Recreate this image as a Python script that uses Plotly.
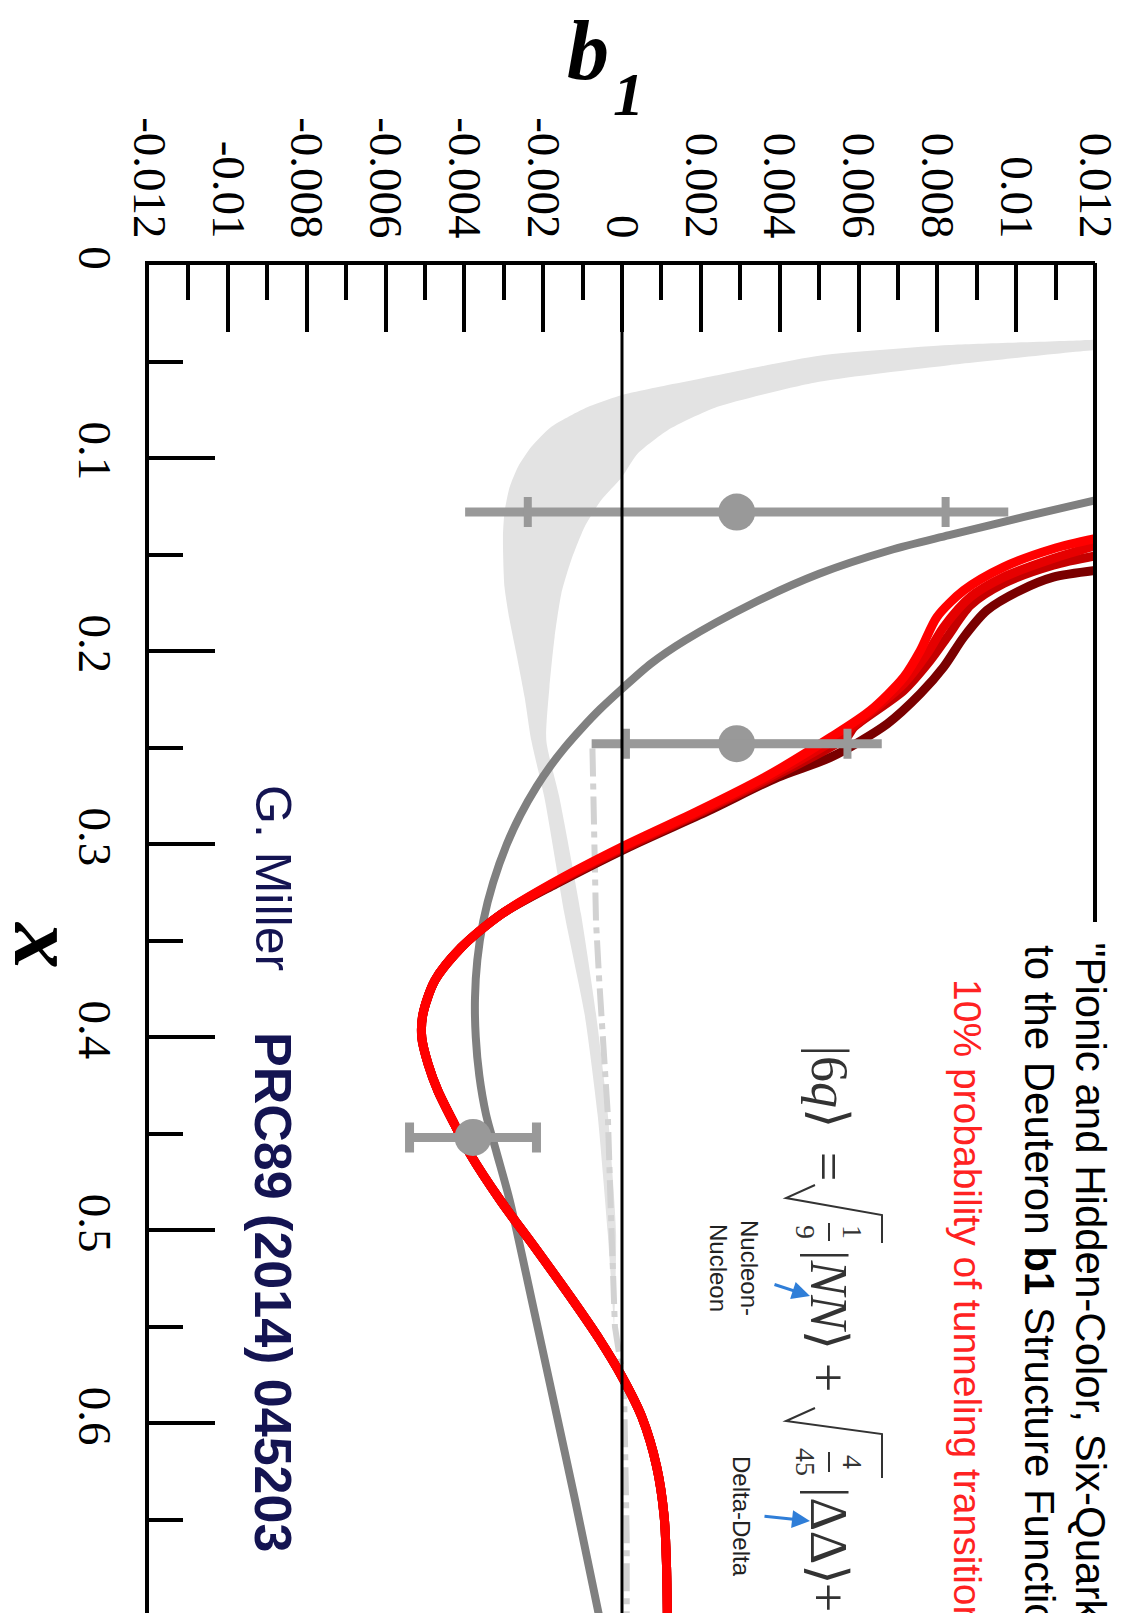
import plotly.graph_objects as go

# ---------------- axis ticks ----------------
B1_TICK_VALS = [-0.012, -0.010, -0.008, -0.006, -0.004, -0.002, 0.0,
                0.002, 0.004, 0.006, 0.008, 0.010, 0.012]
B1_TICK_TEXT = ["-0.012", "-0.01", "-0.008", "-0.006", "-0.004", "-0.002", "0",
                "0.002", "0.004", "0.006", "0.008", "0.01", "0.012"]
B1_MINOR_VALS = [-0.011, -0.009, -0.007, -0.005, -0.003, -0.001,
                 0.001, 0.003, 0.005, 0.007, 0.009, 0.011]
X_TICK_VALS = [0.0, 0.1, 0.2, 0.3, 0.4, 0.5, 0.6]
X_TICK_TEXT = ["0", "0.1", "0.2", "0.3", "0.4", "0.5", "0.6"]
X_MINOR_VALS = [0.05, 0.15, 0.25, 0.35, 0.45, 0.55, 0.65]

# ---------------- light-gray band (lower and upper edge in b1) ----------------
BAND_LO_X = [0.0375, 0.0389, 0.0415, 0.0470, 0.0571, 0.0640, 0.0674, 0.0743, 0.0839,
             0.0942, 0.1046, 0.1150, 0.1279, 0.1409, 0.1669, 0.1841, 0.2014, 0.2239,
             0.2464, 0.2758, 0.3363, 0.3881, 0.4400, 0.5020, 0.5507]
BAND_LO_B1 = [0.0125, 0.0118, 0.0083, 0.0050, 0.00242, 0.00073, 0.0, -0.00095, -0.0018,
              -0.0023, -0.00264, -0.00285, -0.00298, -0.00302, -0.00298, -0.00285, -0.00268,
              -0.00247, -0.0023, -0.00197, -0.00146, -0.00095, -0.00062, -0.00036, -0.0002]
BAND_HI_X = [0.0435, 0.0441, 0.0519, 0.0605, 0.0735, 0.0856, 0.0977, 0.1098, 0.1219,
             0.1357, 0.1530, 0.1703, 0.1928, 0.2187, 0.2464, 0.2758, 0.3363, 0.3881,
             0.4400, 0.5020, 0.5507]
BAND_HI_B1 = [0.0125, 0.0120, 0.0083, 0.0050, 0.00242, 0.00116, 0.0004, 0.0, -0.00053,
              -0.00095, -0.00129, -0.00154, -0.00171, -0.00184, -0.00192, -0.00159, -0.00104,
              -0.00066, -0.00036, -0.00015, -0.0002]

# ---------------- dash-dot light-gray curve ----------------
DASH_X = [0.2505, 0.2800, 0.3100, 0.3400, 0.3700, 0.4000, 0.4400, 0.4800, 0.5200,
          0.5500, 0.5800, 0.6200, 0.6600, 0.7000]
DASH_B1 = [-0.00075, -0.00072, -0.00068, -0.00066, -0.00058, -0.0005, -0.00036, -0.0003,
           -0.00022, -0.00018, 0.00005, 0.0001, 0.00012, 0.00012]

# ---------------- gray model curve ----------------
GRAY_X = [0.1219, 0.1305, 0.1400, 0.1478, 0.1600, 0.1755, 0.1945, 0.2066, 0.2196, 0.2300,
          0.2400, 0.2500, 0.2600, 0.2700, 0.2850, 0.3000, 0.3200, 0.3400, 0.3600, 0.3800,
          0.4000, 0.4200, 0.4400, 0.4600, 0.4845, 0.5363, 0.5880, 0.6399, 0.7000]
GRAY_B1 = [0.0120, 0.0102, 0.0083, 0.0068, 0.0050, 0.0033, 0.0016, 0.00073, 0.0, -0.00055,
           -0.00102, -0.00145, -0.00183, -0.00216, -0.00258, -0.00292, -0.00327, -0.00352,
           -0.00367, -0.00373, -0.00371, -0.00362, -0.00345, -0.00318, -0.00285, -0.00229,
           -0.00174, -0.00119, -0.00058]

# ---------------- red six-quark curves (separate heads, common tail) ----------------
RED_A_X = [0.1418, 0.1470, 0.1565, 0.1686, 0.1824, 0.1997, 0.2135, 0.2308, 0.2446, 0.2654, 0.2827, 0.3017, 0.3207]
RED_A_B1 = [0.0120, 0.01094, 0.00968, 0.00867, 0.00799, 0.00757, 0.00715, 0.0063, 0.0053, 0.00362, 0.00195, -0.00002, -0.0018]
RED_B_X = [0.1455, 0.1521, 0.1617, 0.1720, 0.1876, 0.2014, 0.2169, 0.2360, 0.2446, 0.2654, 0.2827, 0.3017, 0.3207]
RED_B_B1 = [0.0120, 0.01094, 0.00968, 0.00884, 0.00816, 0.00774, 0.00715, 0.00605, 0.0055, 0.00372, 0.00203, 0.00003, -0.00177]
RED_C_X = [0.1507, 0.1555, 0.1650, 0.1763, 0.1928, 0.2049, 0.2204, 0.2395, 0.2446, 0.2654, 0.2827, 0.3017, 0.3207]
RED_C_B1 = [0.0120, 0.01094, 0.00968, 0.00884, 0.00825, 0.00782, 0.00715, 0.00588, 0.0057, 0.00383, 0.0021, 0.0001, -0.00172]
RED_D_X = [0.1582, 0.1617, 0.1686, 0.1789, 0.1928, 0.2083, 0.2221, 0.2377, 0.2550, 0.2654, 0.2827, 0.3017, 0.3207]
RED_D_B1 = [0.0120, 0.01094, 0.0101, 0.00926, 0.00867, 0.00816, 0.00757, 0.00673, 0.0053, 0.00395, 0.0022, 0.00016, -0.00168]
RED_TAIL_X = [0.3363, 0.3536, 0.3708, 0.3881, 0.4002, 0.4140, 0.4279, 0.4452, 0.4607, 0.4845,
              0.5104, 0.5363, 0.5570, 0.5760, 0.5967, 0.6226, 0.6485, 0.6744, 0.7000]
RED_TAIL_B1 = [-0.00306, -0.00408, -0.00475, -0.00505, -0.00508, -0.00492, -0.00467, -0.00425,
               -0.00385, -0.00309, -0.00216, -0.00125, -0.00056, 0.0, 0.0005, 0.00088, 0.00107,
               0.00113, 0.00115]

# ---------------- data points ----------------
PT_X = [0.128, 0.248, 0.452]
PT_B1 = [0.00291, 0.00291, -0.00378]
PT_ERR_OUTER = [0.00689, 0.00368, 0.00161]
PT_ERR_INNER = [0.0053, 0.00281]

# ---------------- page geometry (plot area in pixels) ----------------
FIG_W, FIG_H = 1123, 1613
PL, PT, PW, PH = 149, 265, 946, 1348


def paper(X, Y):
    return (X - PL) / PW, 1 - (Y - PT) / PH


def path(points):
    parts = []
    for i, (X, Y) in enumerate(points):
        px, py = paper(X, Y)
        parts.append(("M" if i == 0 else "L") + f"{px:.5f},{py:.5f}")
    return " ".join(parts)


fig = go.Figure()

# shaded band
fig.add_trace(go.Scatter(
    x=BAND_LO_B1 + BAND_HI_B1[::-1], y=BAND_LO_X + BAND_HI_X[::-1],
    mode="lines", fill="toself", fillcolor="#e3e3e3",
    line=dict(width=0, color="#e3e3e3", shape="spline", smoothing=0.6), hoverinfo="skip"))

# dash-dot curve
fig.add_trace(go.Scatter(
    x=DASH_B1, y=DASH_X, mode="lines",
    line=dict(color="#d2d2d2", width=6, dash="28px,7px,6px,7px")))

# gray curve
fig.add_trace(go.Scatter(
    x=GRAY_B1, y=GRAY_X, mode="lines",
    line=dict(color="#808080", width=8, shape="spline", smoothing=0.8)))

# red curves, darkest first
for hx, hb, col in [(RED_D_X, RED_D_B1, "#7a0000"),
                    (RED_C_X, RED_C_B1, "#c40000"),
                    (RED_B_X, RED_B_B1, "#e60000"),
                    (RED_A_X, RED_A_B1, "#ff0000")]:
    fig.add_trace(go.Scatter(
        x=hb + RED_TAIL_B1, y=hx + RED_TAIL_X, mode="lines",
        line=dict(color=col, width=9, shape="spline", smoothing=0.8)))

# data points: total error (no caps) and inner error ticks
fig.add_trace(go.Scatter(
    x=PT_B1[:2], y=PT_X[:2], mode="markers",
    marker=dict(size=37, color="#999999"),
    error_x=dict(type="data", array=PT_ERR_OUTER[:2], color="#999999", thickness=9, width=0)))
fig.add_trace(go.Scatter(
    x=PT_B1[:2], y=PT_X[:2], mode="markers",
    marker=dict(size=1, color="rgba(0,0,0,0)"),
    error_x=dict(type="data", array=PT_ERR_INNER, color="#999999", thickness=8, width=15)))
fig.add_trace(go.Scatter(
    x=PT_B1[2:], y=PT_X[2:], mode="markers",
    marker=dict(size=37, color="#999999"),
    error_x=dict(type="data", array=PT_ERR_OUTER[2:], color="#999999", thickness=9, width=15)))

# zero line
fig.add_trace(go.Scatter(x=[0.0, 0.0], y=[0.0, 0.7], mode="lines",
                         line=dict(color="black", width=3)))

tick_font = dict(family="Liberation Serif", size=47, color="black")

fig.update_layout(
    width=FIG_W, height=FIG_H,
    margin=dict(l=PL, r=FIG_W - PL - PW, t=PT, b=0, pad=0),
    paper_bgcolor="white", plot_bgcolor="white",
    showlegend=False,
    xaxis=dict(
        range=[-0.012, 0.012], side="top",
        tickmode="array", tickvals=B1_TICK_VALS, ticktext=B1_TICK_TEXT,
        tickangle=90, tickfont=tick_font, ticklabelstandoff=6,
        ticks="inside", ticklen=67, tickwidth=4, tickcolor="black",
        minor=dict(tickmode="array", tickvals=B1_MINOR_VALS, ticks="inside",
                   ticklen=35, tickwidth=4, tickcolor="black"),
        showline=True, linewidth=4, linecolor="black", mirror=False,
        showgrid=False, zeroline=False),
    yaxis=dict(
        range=[0.6984, 0.0],
        tickmode="array", tickvals=X_TICK_VALS, ticktext=X_TICK_TEXT,
        tickangle=90, tickfont=tick_font, ticklabelstandoff=10,
        ticks="inside", ticklen=66, tickwidth=4, tickcolor="black",
        minor=dict(tickmode="array", tickvals=X_MINOR_VALS, ticks="inside",
                   ticklen=34, tickwidth=4, tickcolor="black"),
        showline=True, linewidth=4, linecolor="black", mirror=False,
        showgrid=False, zeroline=False),
)

annotations = []


def text(s, X, Y, size, color="black", family="Liberation Sans", angle=90,
         xanchor="center", yanchor="middle"):
    px, py = paper(X, Y)
    annotations.append(dict(
        text=s, x=px, y=py, xref="paper", yref="paper", showarrow=False,
        textangle=angle, xanchor=xanchor, yanchor=yanchor,
        font=dict(family=family, size=size, color=color)))


# axis titles
text("<b><i>b</i></b>", 588, 50, 84, family="Liberation Serif", angle=0)
text("<b><i>1</i></b>", 628, 94, 62, family="Liberation Serif", angle=0)
text("<b><i>x</i></b>", 46, 945, 92, family="Liberation Serif")

# reference
navy = "#141452"
text("G. Miller", 273, 783, 50, color=navy, yanchor="top")
text("<b>PRC89 (2014) 045203</b>", 273, 1030, 52, color=navy, yanchor="top")

# paper title and note
text("\"Pionic and Hidden-Color, Six-Quark Contributions", 1090, 940, 42, yanchor="top")
text("to the Deuteron <b>b1</b> Structure Function\"", 1040, 943, 42, yanchor="top")
text("10% probability of tunneling transition", 968, 977, 39, color="#ff2222", yanchor="top")

# six-quark state decomposition
eq = "#333333"
eq_font = "Liberation Serif, DejaVu Serif"
text("|6<i>q</i>\u27e9", 829, 1043, 52, color=eq, family=eq_font, yanchor="top")
text("=", 829, 1166, 52, color=eq, family=eq_font)
text("|<i>NN</i>\u27e9", 829, 1248, 52, color=eq, family=eq_font, yanchor="top")
text("+", 829, 1377, 52, color=eq, family=eq_font)
text("|\u0394\u0394\u27e9", 829, 1485, 52, color=eq, family=eq_font, yanchor="top")
text("+", 829, 1597, 52, color=eq, family=eq_font)
text("1", 853, 1232, 28, color=eq, family=eq_font)
text("9", 806, 1232, 28, color=eq, family=eq_font)
text("4", 853, 1462, 28, color=eq, family=eq_font)
text("45", 806, 1462, 28, color=eq, family=eq_font)

text("Nucleon-<br>Nucleon", 734, 1268, 24, color="#222222")
text("Delta-Delta", 742, 1516, 24, color="#222222")

# blue pointers
for (hx, hy, tx, ty) in [(810, 1296, 773, 1284), (810, 1521, 763, 1516)]:
    px, py = paper(hx, hy)
    annotations.append(dict(
        x=px, y=py, xref="paper", yref="paper", text="", showarrow=True,
        ax=tx - hx, ay=ty - hy, arrowhead=2, arrowsize=1.2, arrowwidth=3,
        arrowcolor="#2f7ed8"))

fig.update_layout(annotations=annotations)

shapes = []
# right frame edge (upper part)
x1, y1 = paper(1095, 263)
x2, y2 = paper(1095, 922)
shapes.append(dict(type="line", xref="paper", yref="paper", x0=x1, y0=y1, x1=x2, y1=y2,
                   line=dict(color="black", width=4)))
# radicals and fraction bars
for pts in [[(815, 1185), (786, 1198), (882, 1215), (882, 1243)],
            [(815, 1408), (786, 1421), (882, 1434), (882, 1478)]]:
    shapes.append(dict(type="path", xref="paper", yref="paper", path=path(pts),
                       line=dict(color=eq, width=2)))
for (bx, b0, b1) in [(829, 1223, 1241), (829, 1452, 1472)]:
    xa, ya = paper(bx, b0)
    xb, yb = paper(bx, b1)
    shapes.append(dict(type="line", xref="paper", yref="paper", x0=xa, y0=ya, x1=xb, y1=yb,
                       line=dict(color=eq, width=2)))
fig.update_layout(shapes=shapes)

fig.write_html("out.html")
